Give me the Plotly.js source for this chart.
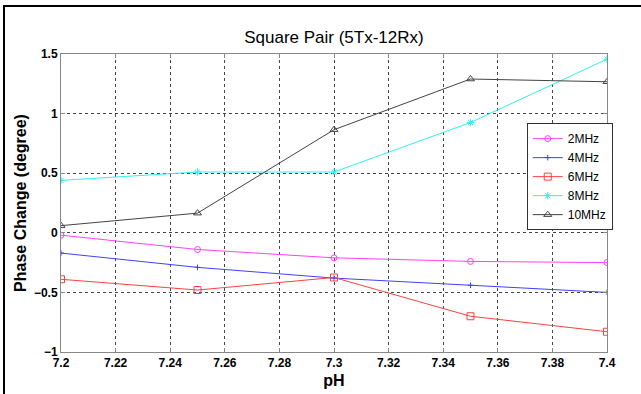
<!DOCTYPE html>
<html>
<head>
<meta charset="utf-8">
<script src="https://cdn.plot.ly/plotly-3.0.1.min.js"></script>
<style>
html,body{margin:0;padding:0;background:#fff;}
#wrap{position:absolute;left:0;top:0;width:641px;height:394px;}
#frame{position:absolute;left:3px;top:5px;width:638px;height:389px;border-left:2px solid #000;border-top:2px solid #000;pointer-events:none;}
#chart{position:absolute;left:0;top:0;width:641px;height:394px;}
</style>
</head>
<body>
<div id="wrap"><div id="chart"></div><div id="frame"></div></div>
<script>
var pH = [7.2, 7.25, 7.3, 7.35, 7.4];
var mhz2 = [-0.02, -0.14, -0.21, -0.24, -0.25];
var mhz4 = [-0.17, -0.29, -0.38, -0.44, -0.50];
var mhz6 = [-0.39, -0.48, -0.375, -0.70, -0.83];
var mhz8 = [0.44, 0.51, 0.51, 0.925, 1.457];
var mhz10 = [0.06, 0.165, 0.865, 1.29, 1.267];
var seriesNames = ['2MHz', '4MHz', '6MHz', '8MHz', '10MHz'];

function tr(y, name, color, sym, size) {
  return {x: pH, y: y, name: name, type: 'scatter', mode: 'lines+markers',
    line: {color: color, width: 1},
    marker: {symbol: sym, size: size, color: color, line: {color: color, width: 1}}};
}
var data = [
  tr(mhz2, seriesNames[0], '#ff40ff', 'circle-open', 6),
  tr(mhz4, seriesNames[1], '#4040ff', 'cross-thin-open', 4),
  tr(mhz6, seriesNames[2], '#ff4040', 'square-open', 7),
  tr(mhz8, seriesNames[3], '#30f0f0', 'asterisk-open', 6),
  tr(mhz10, seriesNames[4], '#444444', 'triangle-up-open', 7)
];
var tickFont = {family: 'Liberation Sans, Arial, sans-serif', size: 12, color: '#000', weight: 'bold'};
var layout = {
  width: 641, height: 394,
  margin: {l: 61, r: 34, t: 54, b: 42},
  paper_bgcolor: '#fff', plot_bgcolor: '#fff',
  title: {text: 'Square Pair (5Tx-12Rx)', x: 0.521, xanchor: 'center', y: 0.905, yanchor: 'middle',
    font: {family: 'Liberation Sans, Arial, sans-serif', size: 17, color: '#000'}},
  xaxis: {range: [7.2, 7.4], dtick: 0.02, tick0: 7.2, showgrid: true,
    gridcolor: '#444', griddash: 'dot', gridwidth: 1,
    showline: true, linecolor: '#888', linewidth: 1, mirror: 'ticks',
    ticks: 'inside', ticklen: 4, tickcolor: '#888', zeroline: false,
    tickfont: tickFont,
    title: {text: 'pH', standoff: 5, font: {family: 'Liberation Sans, Arial, sans-serif', size: 16, color: '#000', weight: 'bold'}}},
  yaxis: {range: [-1, 1.5], dtick: 0.5, tick0: -1, showgrid: true,
    gridcolor: '#444', griddash: 'dot', gridwidth: 1,
    showline: true, linecolor: '#888', linewidth: 1, mirror: 'ticks',
    ticks: 'inside', ticklen: 4, tickcolor: '#888', zeroline: false,
    tickfont: tickFont,
    title: {text: 'Phase Change (degree)', standoff: 3, font: {family: 'Liberation Sans, Arial, sans-serif', size: 16, color: '#000', weight: 'bold'}}},
  legend: {x: 0.853, y: 0.768, xanchor: 'left', yanchor: 'top',
    bgcolor: '#fff', bordercolor: '#333', borderwidth: 1,
    font: {family: 'Liberation Sans, Arial, sans-serif', size: 12, color: '#000'},
    tracegroupgap: 0, itemwidth: 30},
  showlegend: true
};
Plotly.newPlot('chart', data, layout, {displayModeBar: false, staticPlot: true});
</script>
</body>
</html>
